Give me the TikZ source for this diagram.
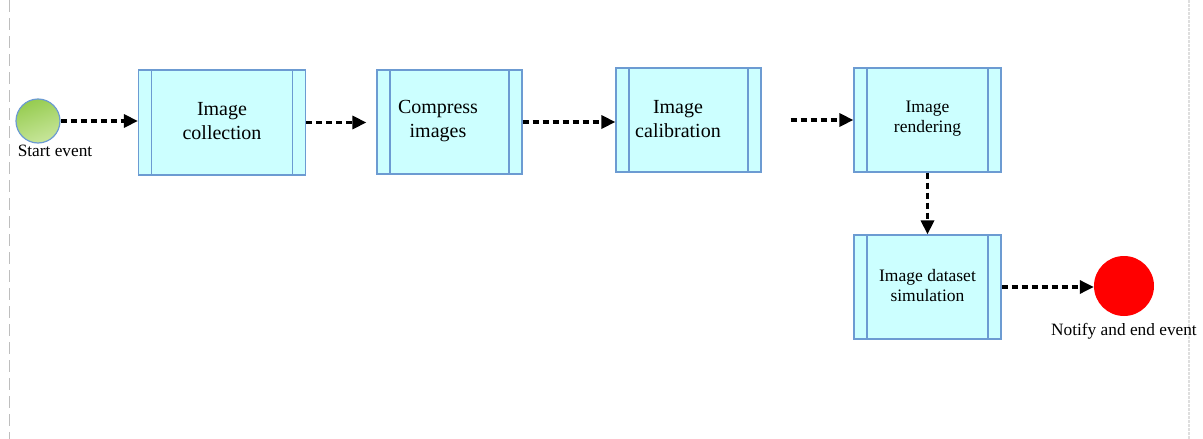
\documentclass[tikz,border=0pt]{standalone}
\usepackage{fontspec}
\setmainfont{Liberation Serif}
\usetikzlibrary{arrows.meta,shapes.geometric}
\definecolor{boxfill}{RGB}{204,255,255}
\definecolor{boxline}{RGB}{108,155,210}
\definecolor{greenA}{RGB}{150,204,80}
\definecolor{greenB}{RGB}{200,230,155}
\definecolor{evred}{RGB}{255,0,0}
\definecolor{lanegray}{RGB}{190,190,190}
\definecolor{lanelight}{RGB}{222,222,222}
\tikzset{
  task/.style={draw=boxline, line width=1.2pt, fill=boxfill, inner sep=0pt,
    minimum width=#1, minimum height=104pt,
    path picture={
      \draw[boxline, line width=1.2pt]
        ([xshift=13pt]path picture bounding box.north west) -- ([xshift=13pt]path picture bounding box.south west)
        ([xshift=-13pt]path picture bounding box.north east) -- ([xshift=-13pt]path picture bounding box.south east);
    }},
  bigtxt/.style={align=center, font=\rmfamily\fontsize{20}{24}\selectfont, inner sep=0pt},
  smalltxt/.style={align=center, font=\rmfamily\fontsize{17.5}{20}\selectfont, inner sep=0pt},
  evlabel/.style={font=\rmfamily\fontsize{17.3}{20}\selectfont, inner sep=0pt, anchor=base},
  flow/.style={draw=black, line width=3.2pt, dash pattern=on 6pt off 4pt,
    -{Triangle[length=14pt,width=13pt]}},
}
\begin{document}
\begin{tikzpicture}[x=1pt,y=-1pt]
\useasboundingbox (0,0) rectangle (1203,439);
% lane borders
\draw[lanegray, line width=1pt, dash pattern=on 12pt off 6pt] (9,0) -- (9,439);
\draw[lanelight, line width=1.2pt, dash pattern=on 3pt off 1pt] (1189,0) -- (1189,439);

% start event
\node[circle, draw=boxline, line width=1.2pt, minimum size=44pt, inner sep=0pt,
  top color=greenA, bottom color=greenB, shading angle=20] (start) at (38,121) {};
\node[evlabel] (startlbl) at (55,156) {Start event};

% tasks
\node[task=167pt, minimum height=105pt] (t1) at (222,122.5) {};
\node[bigtxt] (t1txt) at (222,121) {Image\\collection};

\node[task=145pt] (t2) at (449.5,122) {};
\node[bigtxt] (t2txt) at (438,121) {Compress\\images};

\node[task=145pt] (t3) at (688.5,120) {};
\node[bigtxt] (t3txt) at (678,119) {Image\\calibration};

\node[task=147pt] (t4) at (927.5,120) {};
\node[smalltxt] (t4txt) at (927.5,119) {Image\\rendering};

\node[task=147pt] (t5) at (927.5,287) {};
\node[smalltxt] (t5txt) at (927.5,286) {Image dataset\\simulation};

% end event
\node[circle, fill=evred, minimum size=60pt, inner sep=0pt] (end) at (1124,286) {};
\node[evlabel] (endlbl) at (1124,335) {Notify and end event};

% flows
\draw[flow] (start.east) -- (start.east -| t1.west);
\draw[flow] (t1.east) -- ([xshift=-10pt]t1.east -| t2.west);
\draw[flow] (t2.east) -- (t2.east -| t3.west);
\draw[flow] ([xshift=29pt]t3.east) -- (t3.east -| t4.west);
\draw[flow] (t4.south) -- (t5.north);
\draw[flow] (t5.east) -- (t5.east -| end.west);
\end{tikzpicture}
\end{document}
